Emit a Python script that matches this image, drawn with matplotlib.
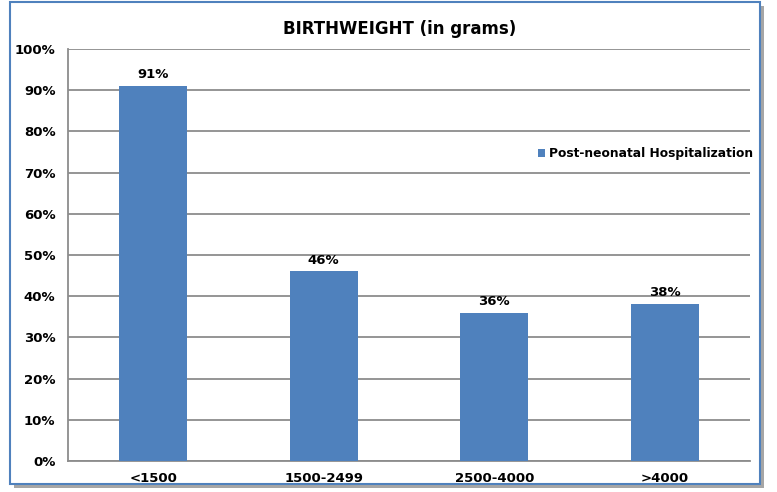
import matplotlib.pyplot as plt
from matplotlib.patches import Rectangle
from matplotlib.ticker import FuncFormatter

categories = ['<1500', '1500-2499', '2500-4000', '>4000']
values = [91, 46, 36, 38]
series_name = 'Post-neonatal Hospitalization'
yticks = [0, 10, 20, 30, 40, 50, 60, 70, 80, 90, 100]

plt.rcParams['font.family'] = ['DejaVu Sans']

fig = plt.figure(figsize=(7.77, 4.92), dpi=100)

# outer frame with grey shadow, like the office chart
fig.patches.append(Rectangle((14 / 777, 4 / 492), 750 / 777, 482 / 492,
                             transform=fig.transFigure, facecolor='#a6a6a6',
                             edgecolor='none', zorder=0))
fig.patches.append(Rectangle((10 / 777, 8 / 492), 750 / 777, 482 / 492,
                             transform=fig.transFigure, facecolor='white',
                             edgecolor='#4f81bd', linewidth=1.5, zorder=1))

ax = fig.add_axes([68 / 777, 1 - 461 / 492, 682 / 777, 412 / 492])
ax.set_zorder(2)
ax.patch.set_alpha(0)

bars = ax.bar(range(len(categories)), values, width=0.4, color='#4f81bd',
              label=series_name, zorder=3)

for b, v in zip(bars, values):
    ax.text(b.get_x() + b.get_width() / 2, v + 1.2, f'{v}%', ha='center',
            va='bottom', fontsize=9.5, fontweight='bold')

ax.set_xlim(-0.5, len(categories) - 0.5)
ax.set_ylim(0, 100)
ax.set_yticks(yticks)
ax.yaxis.set_major_formatter(FuncFormatter(lambda v, p: f'{v:.0f}%'))
ax.set_xticks(range(len(categories)))
ax.set_xticklabels(categories)
for lab in ax.get_xticklabels() + ax.get_yticklabels():
    lab.set_fontweight('bold')
    lab.set_fontsize(9.5)
ax.tick_params(length=0, pad=8)
ax.tick_params(axis='y', pad=9)

ax.grid(axis='y', color='#8c8c8c', linewidth=1.3, zorder=0)
for s in ['top', 'right']:
    ax.spines[s].set_visible(False)
ax.spines['left'].set_color('#8c8c8c')
ax.spines['bottom'].set_color('#8c8c8c')
ax.spines['left'].set_linewidth(1.3)
ax.spines['bottom'].set_linewidth(1.3)

fig.text(400 / 777, 1 - 29 / 492, 'BIRTHWEIGHT (in grams)', ha='center',
         va='center', fontsize=12, fontweight='bold', zorder=5)

leg = fig.legend(loc='center left', bbox_to_anchor=(527 / 777, 1 - 154 / 492),
                 frameon=False, handlelength=0.6, handleheight=0.6,
                 handletextpad=0.3, prop={'weight': 'bold', 'size': 8.8})
leg.set_zorder(5)

fig.savefig('out.png', dpi=100)
